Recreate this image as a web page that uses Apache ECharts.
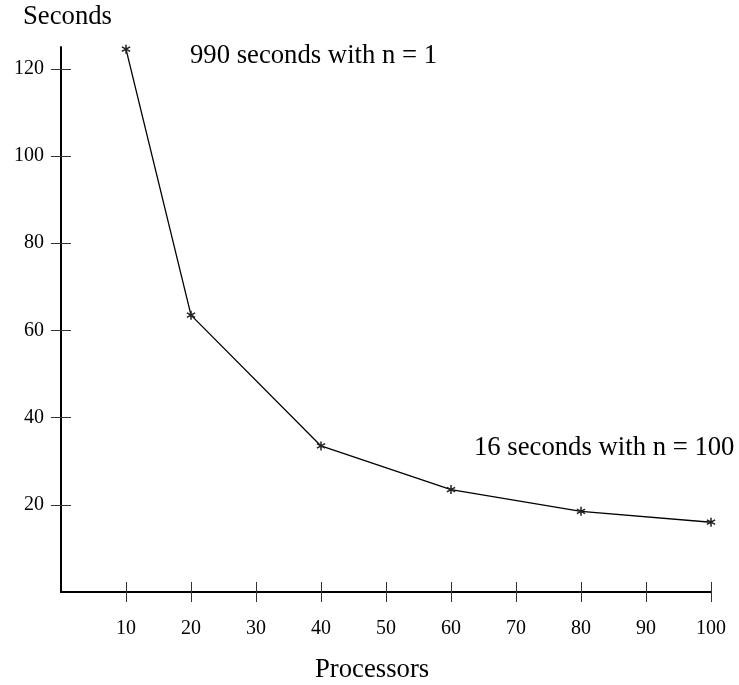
<!DOCTYPE html>
<html>
<head>
<meta charset="utf-8">
<script src="https://cdn.jsdelivr.net/npm/echarts@6/dist/echarts.min.js"></script>
<style>
  html, body { margin: 0; padding: 0; background: #fff; }
  #chart { width: 739px; height: 685px; }
</style>
</head>
<body>
<div id="chart"></div>
<script>
// Run time in seconds against number of processors
const processors = [10, 20, 40, 60, 80, 100];
const seconds = [124.5, 63.5, 33.5, 23.5, 18.5, 16];

const xTicks = [10, 20, 30, 40, 50, 60, 70, 80, 90, 100];
const yTicks = [20, 40, 60, 80, 100, 120];

const xTitle = 'Processors';
const yTitle = 'Seconds';
const noteTop = '990 seconds with n = 1';
const noteBottom = '16 seconds with n = 100';

const FONT = '"Liberation Serif", "Times New Roman", serif';

// six-spoked asterisk marker, all bars wound the same way
const asterisk = 'path://M-0.8,-5L0.8,-5L0.8,5L-0.8,5Z' +
  'M3.93,-3.193L4.73,-1.807L-3.93,3.193L-4.73,1.807Z' +
  'M4.73,1.807L3.93,3.193L-4.73,-1.807L-3.93,-3.193Z';

const data = processors.map((p, i) => [p, seconds[i]]);

const tickStyle = { color: '#333', width: 1 };

const chart = echarts.init(document.getElementById('chart'), null, { renderer: 'canvas' });

chart.setOption({
  animation: false,
  backgroundColor: '#fff',
  grid: { left: 61, right: 28, top: 47, bottom: 93, containLabel: false },
  xAxis: [
    {
      type: 'value', min: 0, max: 100, position: 'bottom',
      axisLine: { show: true, lineStyle: { color: '#000', width: 2 } },
      axisTick: { show: true, inside: false, length: 10, customValues: xTicks, lineStyle: tickStyle },
      axisLabel: { show: true, customValues: xTicks, margin: 27, color: '#000', fontFamily: FONT, fontSize: 20 },
      splitLine: { show: false }
    },
    {
      type: 'value', min: 0, max: 100, position: 'bottom',
      axisLine: { show: false },
      axisTick: { show: true, inside: true, length: 10, customValues: xTicks, lineStyle: tickStyle },
      axisLabel: { show: false },
      splitLine: { show: false }
    }
  ],
  yAxis: [
    {
      type: 'value', min: 0, max: 125, position: 'left',
      axisLine: { show: true, lineStyle: { color: '#000', width: 2 } },
      axisTick: { show: true, inside: false, length: 10, customValues: yTicks, lineStyle: tickStyle },
      axisLabel: { show: true, customValues: yTicks, margin: 17, color: '#000', fontFamily: FONT, fontSize: 20, padding: [0, 0, 12, 0] },
      splitLine: { show: false }
    },
    {
      type: 'value', min: 0, max: 125, position: 'left',
      axisLine: { show: false },
      axisTick: { show: true, inside: true, length: 10, customValues: yTicks, lineStyle: tickStyle },
      axisLabel: { show: false },
      splitLine: { show: false }
    }
  ],
  series: [
    {
      type: 'line',
      xAxisIndex: 0, yAxisIndex: 0,
      data: data,
      clip: false,
      symbol: asterisk,
      symbolSize: [9, 9],
      showSymbol: true,
      lineStyle: { color: '#000', width: 1.3 },
      itemStyle: { color: '#222' },
      emphasis: { disabled: true }
    }
  ],
  graphic: [
    { type: 'text', x: 23, y: 17, style: { text: yTitle, font: '26.7px ' + FONT, fill: '#000', verticalAlign: 'middle', align: 'left' } },
    { type: 'text', x: 190, y: 56, style: { text: noteTop, font: '26.7px ' + FONT, fill: '#000', verticalAlign: 'middle', align: 'left' } },
    { type: 'text', x: 474, y: 448, style: { text: noteBottom, font: '26.7px ' + FONT, fill: '#000', verticalAlign: 'middle', align: 'left' } },
    { type: 'text', x: 315, y: 670, style: { text: xTitle, font: '26.7px ' + FONT, fill: '#000', verticalAlign: 'middle', align: 'left' } }
  ]
});
</script>
</body>
</html>
